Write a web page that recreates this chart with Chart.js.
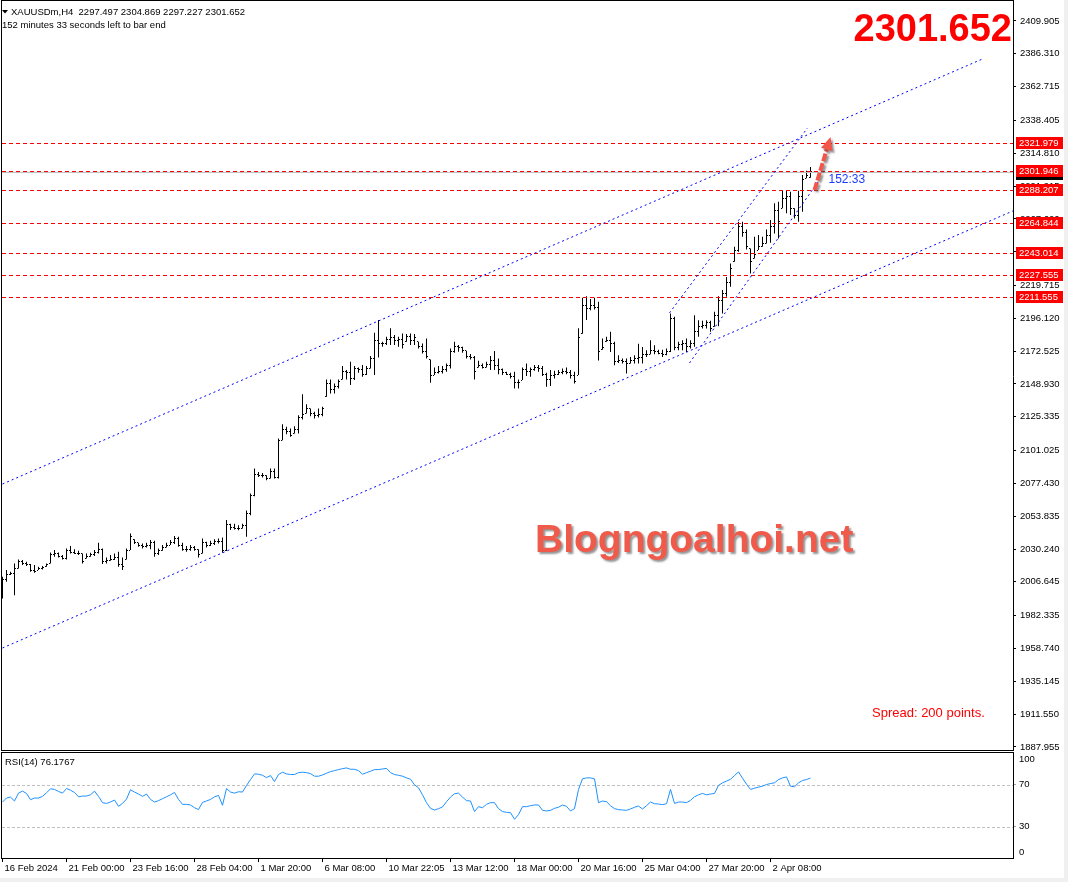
<!DOCTYPE html>
<html><head><meta charset="utf-8">
<script src="https://cdn.jsdelivr.net/npm/chart.js@4.4.1/dist/chart.umd.min.js"></script>
<style>
html,body{margin:0;padding:0;background:#f0f0f0;}
#wrap{position:relative;width:1068px;height:882px;overflow:hidden;}
#bg{position:absolute;left:0;top:0;width:1064px;height:878px;background:#fff;}
#c1{position:absolute;left:0;top:0;width:1068px;height:752px;}
#c2{position:absolute;left:0;top:750px;width:1068px;height:128px;}
</style></head>
<body><div id="wrap"><div id="bg"></div>
<canvas id="c1" width="1068" height="752"></canvas>
<canvas id="c2" width="1068" height="128"></canvas></div>
<script>
// ---------- DATA ----------
const symbolTitle = "XAUUSDm,H4  2297.497 2304.869 2297.227 2301.652";
const timerText = "152 minutes 33 seconds left to bar end";
const lastPrice = 2301.652;
const rsiTitle = "RSI(14) 76.1767";

const xTickIdx = [0,16,32,48,64,80,96,112,128,144,160,176,192];
const xTickLabels = ["16 Feb 2024","21 Feb 00:00","23 Feb 16:00","28 Feb 04:00","1 Mar 20:00","6 Mar 08:00","10 Mar 22:05","13 Mar 12:00","18 Mar 00:00","20 Mar 16:00","25 Mar 04:00","27 Mar 20:00","2 Apr 08:00"];

const priceTicks = [2409.905,2386.310,2362.715,2338.405,2314.810,2291.215,2267.620,2244.025,2219.715,2196.120,2172.525,2148.930,2125.335,2101.025,2077.430,2053.835,2030.240,2006.645,1982.335,1958.740,1935.145,1911.550,1887.955];
const rsiTicks = [0,30,70,100];

const opens = [1996,2008,2012,2013,2016.3,2021,2020,2019,2015,2015.1,
2016,2017.5,2019.9,2026,2027,2025,2023.5,2029,2028,2027,
2027,2023.5,2025,2026,2028,2030,2021,2022,2023,2024,
2019,2022.8,2029.5,2037.2,2034.8,2033,2032,2033,2035,2027,
2029,2031.4,2033.1,2035,2038,2033,2030,2030,2031,2030,
2027.1,2035,2033,2034,2036,2036,2029,2048,2046,2045,
2045,2047,2056,2069,2084,2083,2083,2081,2086,2082,
2108.5,2116,2115,2113.3,2116,2125,2127.7,2131,2128,2126,
2127,2139.7,2149,2145,2147,2152.2,2158,2157,2153,2160,
2159,2156,2160.1,2167,2180,2178,2178,2181,2182,2180,
2181,2179.3,2183,2180,2179.3,2176,2172,2166.6,2155.3,2157,
2158,2159,2162,2172,2176,2175,2172.8,2169,2168,2160.8,
2162,2161,2163,2166,2162,2159,2157,2156,2154,2150,
2151.7,2159,2158,2159,2161,2160,2156,2152,2155,2156,
2157,2158,2157,2155,2155.3,2185,2205,2203,2205,2204,
2173.6,2179.2,2180,2178,2165,2166,2165,2164,2166,2167,
2168,2170,2170.3,2173,2172,2171,2170,2172,2196,2175,
2177,2178,2176,2178,2187,2190,2191,2193,2190,2198,
2209,2214,2222,2236.8,2245,2262,2258,2246.4,2239.2,2245.2,
2248,2250,2256,2262,2274,2275.2,2282,2284,2275,2270,
2284,2296.8,2297.497];

const highs = [2010.3,2015.1,2013.9,2019.9,2022.8,2022.3,2021.1,2019.4,2018.7,2017.5,
2018.0,2019.9,2027.8,2029.5,2027.8,2025.9,2030.7,2032.4,2030.0,2029.0,
2027.1,2027.1,2027.6,2029.5,2034.8,2030.7,2024.2,2025.9,2027.1,2028.3,
2024.2,2030.7,2041.5,2037.2,2034.8,2034.3,2034.8,2036.7,2036.2,2030.7,
2033.1,2034.8,2036.7,2039.6,2039.1,2034.8,2032.4,2033.1,2032.4,2030.0,
2037.9,2035.5,2036.2,2037.2,2037.9,2038.6,2051.1,2048.5,2048.5,2047.3,
2048.5,2058.0,2070.1,2088.1,2085.7,2085.0,2083.3,2088.1,2088.1,2109.7,
2120.0,2118.1,2116.9,2118.6,2126.5,2141.6,2134.4,2131.3,2128.9,2131.3,
2132.5,2152.2,2152.2,2149.3,2152.2,2161.8,2158.9,2164.9,2161.8,2160.8,
2162.5,2161.8,2169.0,2185.8,2194.9,2179.3,2182.9,2188.9,2184.1,2182.9,
2185.3,2184.8,2185.3,2184.8,2179.3,2178.1,2181.7,2166.6,2160.8,2161.8,
2161.8,2163.7,2174.5,2179.3,2176.9,2175.7,2172.8,2170.4,2169.0,2165.6,
2163.7,2164.9,2169.0,2172.6,2167.3,2160.1,2157.7,2157.0,2157.7,2152.2,
2160.8,2163.7,2160.8,2162.5,2162.5,2161.8,2157.0,2158.9,2158.4,2158.9,
2160.1,2160.8,2158.9,2157.7,2188.9,2211.0,2212.0,2210.0,2211.0,2208.0,
2181.6,2182.8,2186.4,2179.2,2169.6,2167.2,2167.2,2168.4,2169.6,2177.9,
2175.5,2173.1,2180.4,2176.8,2173.6,2173.6,2174.4,2199.6,2197.2,2179.2,
2180.4,2181.6,2180.4,2198.4,2194.8,2194.3,2194.8,2194.3,2200.8,2212.0,
2216.4,2225.9,2235.6,2247.6,2265.5,2265.5,2260.0,2246.4,2254.8,2256.0,
2254.8,2260.0,2266.8,2278.8,2280.0,2287.9,2287.9,2287.2,2275.2,2287.9,
2299.2,2302.3,2304.869];

const lows = [1994.7,2006.7,2011.5,1997.1,2016.3,2018.7,2018.0,2013.9,2013.2,2015.1,
2015.6,2017.5,2019.9,2024.7,2024.2,2022.8,2022.8,2027.1,2026.6,2025.9,
2019.9,2023.5,2024.7,2025.2,2027.1,2019.4,2019.9,2021.8,2022.3,2017.5,
2015.1,2022.8,2029.5,2033.8,2031.9,2030.7,2031.4,2030.0,2024.7,2025.9,
2029.0,2031.4,2033.1,2033.8,2031.9,2029.0,2028.3,2029.0,2029.0,2024.2,
2027.1,2031.4,2032.4,2033.1,2034.3,2027.6,2028.8,2044.0,2044.2,2043.7,
2045.0,2039.0,2054.5,2068.2,2082.1,2081.6,2079.7,2080.9,2080.9,2080.9,
2108.5,2112.8,2110.9,2113.3,2113.3,2123.4,2127.7,2125.8,2124.1,2124.8,
2125.8,2139.7,2142.1,2142.1,2145.7,2152.2,2152.2,2148.1,2151.7,2157.0,
2154.1,2155.3,2160.1,2155.3,2168.0,2175.7,2176.9,2176.9,2176.9,2175.7,
2174.5,2179.3,2176.9,2176.9,2174.5,2170.9,2167.3,2149.8,2155.3,2156.5,
2156.5,2157.7,2160.1,2171.4,2172.1,2171.4,2167.3,2166.6,2152.2,2160.8,
2160.1,2160.8,2158.9,2158.9,2156.0,2155.3,2155.3,2152.9,2145.7,2145.7,
2151.7,2154.6,2154.1,2158.4,2157.7,2154.6,2146.9,2147.4,2152.9,2155.3,
2156.0,2156.0,2152.9,2149.3,2155.3,2185.0,2195.0,2202.0,2202.5,2165.8,
2173.6,2179.2,2171.9,2162.4,2164.0,2163.6,2156.4,2163.6,2163.6,2163.6,
2163.6,2168.4,2170.3,2170.3,2170.3,2168.4,2169.6,2171.9,2173.1,2173.1,
2173.1,2171.9,2174.4,2175.6,2182.8,2188.8,2188.8,2186.4,2190.0,2190.4,
2199.6,2211.6,2218.8,2236.8,2244.0,2254.8,2245.6,2228.4,2239.2,2245.2,
2247.6,2250.0,2250.4,2257.2,2253.6,2275.2,2271.6,2270.4,2267.9,2265.6,
2272.8,2296.8,2297.227];

const closes = [2008,2012,2013,2016,2021,2020,2019,2015,2014,2016,
2017,2019,2026,2027,2025,2023.5,2029,2028,2027,2027,
2021,2025,2026,2028,2030,2021,2022,2023,2024,2019,
2018,2029,2039,2035,2033,2032,2033,2035,2027,2029,
2031,2033,2035,2038,2033,2030,2030,2031,2030,2026,
2035,2033,2034,2036,2036,2029,2048,2046,2045,2045,
2047,2056,2069,2084,2083,2083,2081,2086,2082,2108,
2116,2115,2112,2116,2125,2127,2131,2128,2126,2127,
2131,2149,2145,2147,2151,2158,2157,2153,2160,2159,
2156,2160,2167,2180,2178,2178,2181,2182,2180,2181,
2177,2183,2180,2182,2176,2172,2169,2155,2157,2158,
2159,2162,2172,2176,2175,2173,2169,2168,2158,2162,
2161,2163,2166,2162,2159,2157,2156,2154,2150,2150,
2159,2158,2159,2161,2160,2156,2152,2155,2156,2157,
2158,2157,2155,2151,2182,2205,2203,2205,2204,2172,
2175,2180,2178,2165,2166,2165,2164,2166,2167,2168,
2170,2170,2173,2172,2171,2170,2172,2196,2175,2177,
2178,2176,2178,2187,2190,2191,2193,2189,2198,2209,
2214,2222,2232,2245,2262,2258,2248,2237,2242,2248,
2250,2256,2262,2274,2266,2282,2284,2275,2270,2284,
2296,2299,2301.652];

const rsi = [53.3,57.1,58.0,54.3,61.8,63.7,61.5,55.5,57.1,57.1,
58.7,62.1,65.9,65.3,63.4,61.8,66.2,64.6,62.4,58.3,
59.0,59.0,60.2,63.7,58.7,52.7,52.0,53.3,55.2,49.2,
52.0,56.1,65.0,62.8,60.9,58.7,60.9,55.8,53.3,54.6,
56.5,58.3,60.2,62.4,55.8,51.1,51.1,50.5,47.9,46.1,
53.0,54.3,55.8,58.3,59.6,50.2,66.2,62.8,61.8,63.1,
62.8,69.1,74.7,80.1,79.8,78.8,76.6,78.5,72.8,79.5,
81.7,80.1,79.5,79.5,81.3,81.7,81.3,80.4,77.9,77.9,
79.1,80.7,82.3,83.2,84.2,85.1,85.8,84.5,84.5,83.2,
79.8,81.3,82.6,84.2,84.2,84.8,85.4,81.3,79.5,78.8,
77.9,76.3,75.0,69.7,66.9,60.2,52.7,47.3,45.7,47.0,
48.6,53.6,58.0,61.2,61.8,58.0,54.6,54.3,44.2,48.9,
47.9,51.1,52.7,52.7,47.0,44.2,43.5,43.2,36.9,41.3,
48.9,48.9,49.8,50.5,50.5,45.4,44.8,45.4,47.3,48.3,
50.5,49.2,44.8,47.0,65.3,75.4,76.3,76.3,75.4,52.7,
54.3,53.6,49.8,47.0,46.1,45.7,45.4,46.7,48.3,49.5,
46.7,49.8,53.3,51.7,51.4,50.8,51.7,65.3,52.0,53.3,
53.3,52.7,54.9,58.3,60.2,61.5,60.2,60.9,61.5,69.1,
71.6,73.2,75.0,78.5,82.0,76.0,70.3,65.3,66.5,67.5,
68.4,70.0,70.9,71.6,74.7,76.3,77.2,68.4,67.8,71.6,
73.8,74.7,76.18];

const hLevels = [2321.979,2301.946,2288.207,2264.844,2243.014,2227.555,2211.555];
const rsiLevels = [30,70];
// trend lines in [bar index, price]
const trendLines = [
  [[0,2077.0],[245,2382.6]],
  [[0,1959.1],[252.6,2273.3]],
  [[166.75,2200.0],[201.25,2333.0]],
  [[171.75,2164.0],[204.25,2295.6]]
];
const arrowLine = [[203,2288.4],[207,2326.5]];
const timerLabel = {text:"152:33", at:[206.5,2296.0]};
const spreadText = "Spread: 200 points.";
const watermark = "Blogngoalhoi.net";

// ---------- CHART ----------
const FONT = '"Liberation Sans", Arial, sans-serif';
const X_MIN = -0.125, X_MAX = 252.625;

const mainPlugin = {
  id:'mtMain',
  afterDatasetsDraw(chart){
    const {ctx, chartArea:a, scales:{x,y}} = chart;
    ctx.save();
    // open / close ticks
    ctx.fillStyle = '#000';
    for(let i=0;i<opens.length;i++){
      const px = Math.floor(x.getPixelForValue(i));
      ctx.fillRect(px-1, Math.round(y.getPixelForValue(opens[i])-0.5), 1, 1);
      ctx.fillRect(px+1, Math.round(y.getPixelForValue(closes[i])-0.5), 1, 1);
    }
    ctx.beginPath(); ctx.rect(a.left, a.top, a.right-a.left, a.bottom-a.top); ctx.clip();
    // bid line
    ctx.strokeStyle = '#c0c0c0'; ctx.lineWidth = 1; ctx.setLineDash([]);
    let yb = Math.round(y.getPixelForValue(lastPrice))+0.5;
    ctx.beginPath(); ctx.moveTo(a.left, yb); ctx.lineTo(a.right, yb); ctx.stroke();
    // red dashed levels
    ctx.strokeStyle = '#ff0000'; ctx.setLineDash([4,3]);
    hLevels.forEach(v=>{
      const yy = Math.round(y.getPixelForValue(v))+0.5;
      ctx.beginPath(); ctx.moveTo(a.left, yy); ctx.lineTo(a.right, yy); ctx.stroke();
    });
    // blue dotted trend lines
    ctx.strokeStyle = '#0000ff'; ctx.setLineDash([2,3]);
    trendLines.forEach(([p,q])=>{
      ctx.beginPath();
      ctx.moveTo(x.getPixelForValue(p[0]), y.getPixelForValue(p[1]));
      ctx.lineTo(x.getPixelForValue(q[0]), y.getPixelForValue(q[1]));
      ctx.stroke();
    });
    ctx.restore();
  },
  afterDraw(chart){
    const {ctx, chartArea:a, scales:{x,y}} = chart;
    ctx.save();
    // frame
    ctx.fillStyle = '#000';
    ctx.fillRect(1,0,1,751); ctx.fillRect(1,0,a.right-1,1); ctx.fillRect(1,750,a.right-1,1);
    ctx.fillRect(a.right,0,1,3);
    // bid label sliver + red labels
    const yb = y.getPixelForValue(lastPrice);
    ctx.fillRect(a.right+3, Math.round(yb)-6, 47, 14);
    ctx.font = '9.5px '+FONT; ctx.textBaseline='middle'; ctx.textAlign='left';
    hLevels.forEach(v=>{
      const yy = Math.round(y.getPixelForValue(v));
      ctx.fillStyle = '#ff0000'; ctx.fillRect(a.right+3, yy-6, 47, 12);
      ctx.fillStyle = '#ffffff'; ctx.fillText(v.toFixed(3), a.right+6, yy+0.5);
    });
    // header
    ctx.fillStyle = '#000';
    ctx.beginPath(); ctx.moveTo(2,10); ctx.lineTo(8,10); ctx.lineTo(5,13.5); ctx.closePath(); ctx.fill();
    ctx.textBaseline='alphabetic';
    ctx.fillText(symbolTitle, 11, 15);
    ctx.fillText(timerText, 2, 28);
    // big price
    ctx.fillStyle = '#ff0000'; ctx.font = 'bold 38px '+FONT; ctx.textAlign='right';
    ctx.fillText(lastPrice.toFixed(3), a.right-1, 41);
    // spread
    ctx.font = '13px '+FONT; ctx.textAlign='left';
    ctx.fillText(spreadText, 872, 717);
    // watermark
    ctx.font = 'bold 39px '+FONT;
    ctx.shadowColor = 'rgba(60,60,60,0.55)'; ctx.shadowOffsetX = 2; ctx.shadowOffsetY = 2; ctx.shadowBlur = 2;
    ctx.fillStyle = '#f05a4b';
    ctx.fillText(watermark, 535, 552);
    // arrow
    const p0x = x.getPixelForValue(arrowLine[0][0]), p0y = y.getPixelForValue(arrowLine[0][1]);
    const p1x = x.getPixelForValue(arrowLine[1][0]), p1y = y.getPixelForValue(arrowLine[1][1]);
    const ang = Math.atan2(p1y-p0y, p1x-p0x);
    const hl = 13, hw = 6;
    const bx = p1x - hl*Math.cos(ang), by = p1y - hl*Math.sin(ang);
    ctx.strokeStyle = '#f2554a'; ctx.lineWidth = 4; ctx.setLineDash([8,2]); ctx.lineCap='butt';
    ctx.beginPath(); ctx.moveTo(p0x,p0y); ctx.lineTo(bx,by); ctx.stroke();
    ctx.setLineDash([]);
    ctx.fillStyle = '#f2554a';
    ctx.beginPath(); ctx.moveTo(p1x,p1y);
    ctx.lineTo(bx + hw*Math.sin(ang), by - hw*Math.cos(ang));
    ctx.lineTo(bx - hw*Math.sin(ang), by + hw*Math.cos(ang));
    ctx.closePath(); ctx.fill();
    ctx.shadowColor='transparent';
    // timer label
    ctx.fillStyle = '#1c3cff'; ctx.font = '12px '+FONT; ctx.textBaseline='middle';
    ctx.fillText(timerLabel.text, x.getPixelForValue(timerLabel.at[0]), y.getPixelForValue(timerLabel.at[1]));
    ctx.restore();
  }
};

new Chart(document.getElementById('c1'), {
  type:'bar',
  data:{datasets:[{
    data: highs.map((h,i)=>({x:i, y:[lows[i], h]})),
    backgroundColor:'#000', borderWidth:0, barThickness:1, grouped:false, inflateAmount:0
  }]},
  options:{
    responsive:false, animation:false, devicePixelRatio:1,
    layout:{padding:{left:2, top:2, right:0, bottom:2}},
    plugins:{legend:{display:false}, tooltip:{enabled:false}},
    scales:{
      x:{type:'linear', min:X_MIN, max:X_MAX, display:false, offset:false},
      y:{position:'right', min:1885.75, max:2423.56,
        afterBuildTicks(s){ s.ticks = priceTicks.map(v=>({value:v})); },
        afterFit(s){ s.width = 55; s.paddingTop = 0; s.paddingBottom = 0; },
        ticks:{autoSkip:false, font:{family:FONT, size:9.5}, color:'#000', padding:4, callback:v=>Number(v).toFixed(3)},
        grid:{drawOnChartArea:false, drawTicks:true, tickLength:3, color:'#000'},
        border:{display:true, color:'#000'}
      }
    }
  },
  plugins:[mainPlugin]
});

const rsiPlugin = {
  id:'mtRsi',
  beforeDatasetsDraw(chart){
    const {ctx, chartArea:a, scales:{y}} = chart;
    ctx.save();
    ctx.strokeStyle = '#c0c0c0'; ctx.lineWidth = 1; ctx.setLineDash([3,2]);
    rsiLevels.forEach(v=>{
      const yy = Math.round(y.getPixelForValue(v))+0.5;
      ctx.beginPath(); ctx.moveTo(a.left, yy); ctx.lineTo(a.right, yy); ctx.stroke();
    });
    ctx.restore();
  },
  afterDraw(chart){
    const {ctx, chartArea:a, scales:{y}} = chart;
    ctx.save();
    ctx.fillStyle = '#000';
    ctx.fillRect(1,2,a.right,1); ctx.fillRect(1,2,1,a.bottom-1);
    ctx.font = '9.5px '+FONT; ctx.textBaseline='middle'; ctx.textAlign='left';
    const lx = a.right + 6;
    ctx.fillText('100', lx, y.getPixelForValue(100)+6);
    ctx.fillText('70', lx, y.getPixelForValue(70));
    ctx.fillText('30', lx, y.getPixelForValue(30));
    ctx.fillText('0', lx, y.getPixelForValue(0)-6);
    ctx.textBaseline='alphabetic';
    ctx.fillText(rsiTitle, 5, 15);
    ctx.restore();
  }
};

new Chart(document.getElementById('c2'), {
  type:'line',
  data:{datasets:[{
    data: rsi.map((v,i)=>({x:i, y:v})),
    borderColor:'#1e90ff', borderWidth:1, pointRadius:0, tension:0, fill:false
  }]},
  options:{
    responsive:false, animation:false, devicePixelRatio:1,
    layout:{padding:{left:2, top:3, right:0, bottom:0}},
    plugins:{legend:{display:false}, tooltip:{enabled:false}},
    scales:{
      x:{type:'linear', min:X_MIN, max:X_MAX,
        afterBuildTicks(s){ s.ticks = xTickIdx.map(v=>({value:v})); },
        afterFit(s){ s.height = 20; s.paddingLeft = 0; s.paddingRight = 0; },
        ticks:{autoSkip:false, maxRotation:0, minRotation:0, align:'start', labelOffset:2, padding:1,
          font:{family:FONT, size:9.5}, color:'#000', callback:(v,i)=>xTickLabels[i]},
        grid:{drawOnChartArea:false, drawTicks:true, tickLength:4, color:'#000'},
        border:{display:true, color:'#000'}
      },
      y:{position:'right', min:0, max:100,
        afterBuildTicks(s){ s.ticks = rsiTicks.map(v=>({value:v})); },
        afterFit(s){ s.width = 55; s.paddingTop = 0; s.paddingBottom = 0; },
        ticks:{callback:()=>''},
        grid:{drawOnChartArea:false, drawTicks:true, tickLength:3,
          color:c=> (c.tick && rsiLevels.includes(c.tick.value)) ? '#a0a0a0' : 'rgba(0,0,0,0)'},
        border:{display:true, color:'#000'}
      }
    }
  },
  plugins:[rsiPlugin]
});
</script></body></html>
